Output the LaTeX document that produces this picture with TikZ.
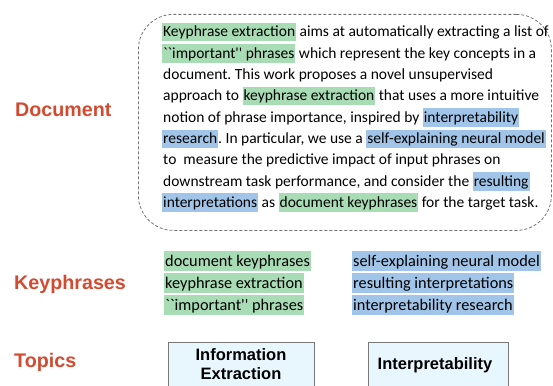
\documentclass[tikz,border=0pt]{standalone}
\usepackage{fontspec}
\newfontfamily\docfont{Carlito}
\newfontfamily\arialfont{Liberation Sans}
\definecolor{hlgreen}{RGB}{168,220,180}
\definecolor{hlblue}{RGB}{160,197,232}
\definecolor{lblred}{RGB}{210,75,48}
\definecolor{topicfill}{RGB}{232,246,253}
\definecolor{topicline}{RGB}{120,120,120}
\definecolor{dashgray}{RGB}{115,115,115}
\newcommand\hlg[1]{{\setlength\fboxsep{0pt}\colorbox{hlgreen}{\hspace{1pt}\rule[-4.5pt]{0pt}{18.5pt}#1\hspace{1pt}}}}
\newcommand\hlb[1]{{\setlength\fboxsep{0pt}\colorbox{hlblue}{\hspace{1pt}\rule[-4.5pt]{0pt}{18.5pt}#1\hspace{1pt}}}}
\newcommand\lhlg[1]{{\setlength\fboxsep{0pt}\colorbox{hlgreen}{\hspace{1pt}\rule[-5pt]{0pt}{20pt}#1\hspace{1pt}}}}
\newcommand\lhlb[1]{{\setlength\fboxsep{0pt}\colorbox{hlblue}{\hspace{1pt}\rule[-5pt]{0pt}{20pt}#1\hspace{1pt}}}}
\begin{document}
\frenchspacing
\begin{tikzpicture}[x=1pt,y=-1pt,
  txtline/.style={anchor=base west, inner sep=0pt, font=\docfont\frenchspacing\fontsize{15.5}{18}\selectfont},
  listline/.style={anchor=base west, inner sep=0pt, font=\docfont\fontsize{16.3}{19}\selectfont},
  sidelabel/.style={anchor=base west, inner sep=0pt, text=lblred, font=\arialfont\bfseries\fontsize{19.7}{22}\selectfont},
  topicbox/.style={draw=topicline, fill=topicfill, line width=0.8pt, anchor=north, minimum height=60pt, inner sep=0pt},
  topictext/.style={align=center, inner sep=0pt, font=\arialfont\bfseries\fontsize{16.5}{19}\selectfont},
  docbox/.style={draw=dashgray, line width=0.8pt, dash pattern=on 3pt off 2pt, rounded corners=35pt, anchor=north west, inner sep=0pt}]
\clip (0,0) rectangle (553,385);
\fill[white] (0,0) rectangle (553,385);

% side labels
\node[sidelabel] (ldoc) at (15,117) {Document};
\node[sidelabel] (lkey) at (14,289) {Keyphrases};
\node[sidelabel] (ltop) at (14,367) {Topics};

% document box
\node[docbox, minimum width=413pt, minimum height=216pt] (docb) at (138,14) {};

% paragraph lines
\node[txtline] (p1) at (162,37.0) {\hlg{Keyphrase extraction} aims at automatically extracting a list of};
\node[txtline] (p2) at (162,58.3) {\hlg{``important'' phrases} which represent the key concepts in a};
\node[txtline] (p3) at (163,79.6) {document. This work proposes a novel unsupervised};
\node[txtline] (p4) at (163,100.9) {approach to \hlg{keyphrase extraction} that uses a more intuitive};
\node[txtline] (p5) at (163,122.2) {notion of phrase importance, inspired by \hlb{interpretability}};
\node[txtline] (p6) at (162,143.5) {\hlb{research}. In particular, we use a \hlb{self-explaining neural model}};
\node[txtline] (p7) at (163,164.8) {to\ \ measure the predictive impact of input phrases on};
\node[txtline] (p8) at (163,186.1) {downstream task performance, and consider the \hlb{resulting}};
\node[txtline] (p9) at (162,207.4) {\hlb{interpretations} as \hlg{document keyphrases} for the target task.};

% keyphrase lists
\node[listline] (g1) at (164,266) {\lhlg{document keyphrases}};
\node[listline] (g2) at (164,288) {\lhlg{keyphrase extraction}};
\node[listline] (g3) at (164,310) {\lhlg{``important'' phrases}};
\node[listline] (b1) at (352,266) {\lhlb{self-explaining neural model}};
\node[listline] (b2) at (352,288) {\lhlb{resulting interpretations}};
\node[listline] (b3) at (352,310) {\lhlb{interpretability research}};

% topics
\node[topicbox, minimum width=146pt] (t1) at (241,342) {};
\node[topictext] (t1txt) at (241,364.5) {Information\\Extraction};
\node[topicbox, minimum width=140pt] (t2) at (438,342) {};
\node[topictext] (t2txt) at (435,365) {Interpretability};
\end{tikzpicture}
\end{document}
